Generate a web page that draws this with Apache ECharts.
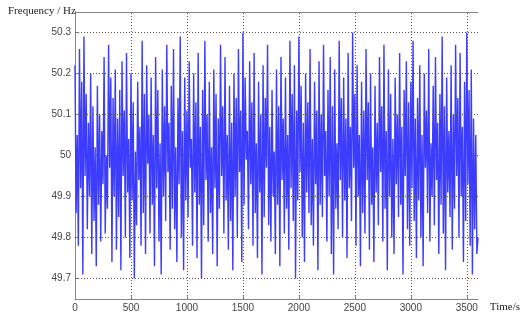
<!DOCTYPE html>
<html>
<head>
<meta charset="utf-8">
<script src="https://cdn.jsdelivr.net/npm/echarts@6/dist/echarts.min.js"></script>
<style>html,body{margin:0;padding:0;background:#fff;}#c{width:526px;height:314px;}</style>
</head>
<body>
<div id="c"></div>
<script>
const timeStep = 10;
const frequency = [
50.22,49.86,50.05,49.78,50.26,49.92,50.18,49.71,50.29,49.95,
50.15,49.82,50.08,49.90,50.20,49.76,50.12,49.84,50.02,49.73,
50.17,49.88,50.10,49.79,50.06,49.93,50.24,49.81,50.00,49.87,
50.27,49.97,50.19,49.74,50.14,49.90,50.21,49.77,50.09,49.85,
50.16,49.72,50.23,49.95,50.11,49.80,50.25,49.91,50.04,49.75,
50.20,49.89,50.13,49.70,50.01,49.83,50.18,49.94,50.07,49.78,
50.28,49.86,50.15,49.76,50.22,49.98,50.10,49.81,50.19,49.88,
50.05,49.73,50.24,49.92,50.16,49.79,50.03,49.71,50.21,49.90,
50.12,49.84,50.27,49.96,50.08,49.77,50.17,49.87,50.26,49.82,
50.02,49.74,50.14,49.93,50.29,49.80,50.06,49.72,50.19,49.89,
50.11,49.85,50.23,49.97,50.04,49.78,50.20,49.91,50.13,49.75,
50.25,49.88,50.07,49.70,50.16,49.83,50.28,49.94,50.10,49.79,
50.18,49.86,50.02,49.76,50.21,49.92,50.15,49.73,50.09,49.87,
50.27,49.95,50.12,49.81,50.24,49.89,50.05,49.77,50.17,49.84,
50.08,49.72,50.20,49.90,50.14,49.80,50.26,49.96,50.11,49.74,
50.30,49.88,50.19,49.99,50.06,49.82,50.23,49.93,50.13,49.78,
50.25,49.86,50.03,49.75,50.18,49.91,50.10,49.71,50.22,49.85,
50.14,49.97,50.27,49.83,50.07,49.79,50.16,49.90,50.01,49.76,
50.21,49.88,50.12,49.73,50.24,49.94,50.09,49.81,50.19,49.87,
50.05,49.77,50.28,49.92,50.15,49.84,50.22,49.70,50.11,49.89,
50.29,49.96,50.17,49.80,50.08,49.74,50.20,49.91,50.13,49.86,
50.26,49.83,50.04,49.78,50.18,49.93,50.11,49.72,50.23,49.88,
50.10,49.85,50.27,49.95,50.06,49.79,50.16,49.90,50.24,49.76,
50.12,49.71,50.21,49.87,50.03,49.82,50.28,49.94,50.14,49.80,
50.19,49.89,50.09,49.75,50.25,49.92,50.07,49.84,50.30,49.97,
50.15,49.78,50.22,49.90,50.05,49.73,50.18,49.86,50.11,49.81,
50.26,49.94,50.13,49.77,50.20,49.88,50.02,49.74,50.17,49.91,
50.08,49.83,50.24,49.96,50.12,49.79,50.27,49.87,50.06,49.72,
50.21,49.90,50.15,49.80,50.04,49.76,50.19,49.93,50.10,49.85,
50.25,49.88,50.07,49.71,50.16,49.95,50.23,49.82,50.13,49.78,
50.18,49.92,50.28,49.84,50.09,49.75,50.14,49.89,50.22,49.80,
50.05,49.73,50.20,49.97,50.11,49.86,50.26,49.79,50.03,49.90,
50.17,49.83,50.24,49.94,50.08,49.76,50.15,49.88,50.29,49.81,
50.12,49.72,50.19,49.91,50.06,49.85,50.22,49.77,50.10,49.87,
50.27,49.95,50.14,49.80,50.25,49.90,50.07,49.74,50.18,49.84,
50.30,49.93,50.16,49.78,50.21,49.71,50.09,49.82,50.05,49.76,
49.80
];
const xTicks = [0,500,1000,1500,2000,2500,3000,3500];
const yTicks = [49.7,49.8,49.9,50,50.1,50.2,50.3];

const points = frequency.map((v,i)=>[i*timeStep, v]);
const gridStyle = {color:'#555', type:[1,2], width:1};
const labelFont = {color:'#444', fontSize:10, fontFamily:'Liberation Sans, Arial, sans-serif'};

const chart = echarts.init(document.getElementById('c'), null, {renderer:'canvas'});
chart.setOption({
  animation:false,
  backgroundColor:'#fff',
  title:[
    {text:'Frequency / Hz', left:3, top:1, textStyle:{fontFamily:'Liberation Serif, Times New Roman, serif', fontSize:11, fontWeight:'normal', color:'#222'}},
    {text:'Time/s', right:1, top:297, textStyle:{fontFamily:'Liberation Serif, Times New Roman, serif', fontSize:11, fontWeight:'normal', color:'#222'}}
  ],
  grid:{left:75, right:48, top:12, bottom:15, containLabel:false},
  xAxis:[
    {type:'value', min:0, max:3600, interval:500, position:'bottom',
     axisLine:{show:true, lineStyle:{color:'#888'}},
     axisTick:{show:true, inside:true, length:3, lineStyle:{color:'#888'}},
     axisLabel:Object.assign({margin:4, showMaxLabel:false, formatter:(v)=>String(v)}, labelFont),
     splitLine:{show:false}},
    {type:'value', min:0, max:3600, interval:500, position:'top',
     axisLine:{show:true, lineStyle:{color:'#888'}},
     axisTick:{show:false}, axisLabel:{show:false}, splitLine:{show:false}}
  ],
  yAxis:[
    {type:'value', min:49.65, max:50.35, position:'left',
     axisLine:{show:true, lineStyle:{color:'#888'}},
     axisTick:{show:true, inside:true, length:3, customValues:yTicks, lineStyle:{color:'#888'}},
     axisLabel:Object.assign({margin:4, customValues:yTicks, formatter:(v)=>String(Math.round(v*10)/10)}, labelFont),
     splitLine:{show:false}},
    {type:'value', min:49.65, max:50.35, position:'right',
     axisLine:{show:true, lineStyle:{color:'#888'}},
     axisTick:{show:false}, axisLabel:{show:false}, splitLine:{show:false}}
  ],
  series:[{
    type:'line', xAxisIndex:0, yAxisIndex:0, data:points, showSymbol:false, symbol:'none',
    lineStyle:{color:'#3c3cff', width:1.4, opacity:1},
    markLine:{
      silent:true, symbol:'none', label:{show:false}, lineStyle:gridStyle, animation:false,
      data: yTicks.map(v=>({yAxis:v})).concat(xTicks.filter(v=>v>0).map(v=>({xAxis:v})))
    }
  }]
});
</script>
</body>
</html>
